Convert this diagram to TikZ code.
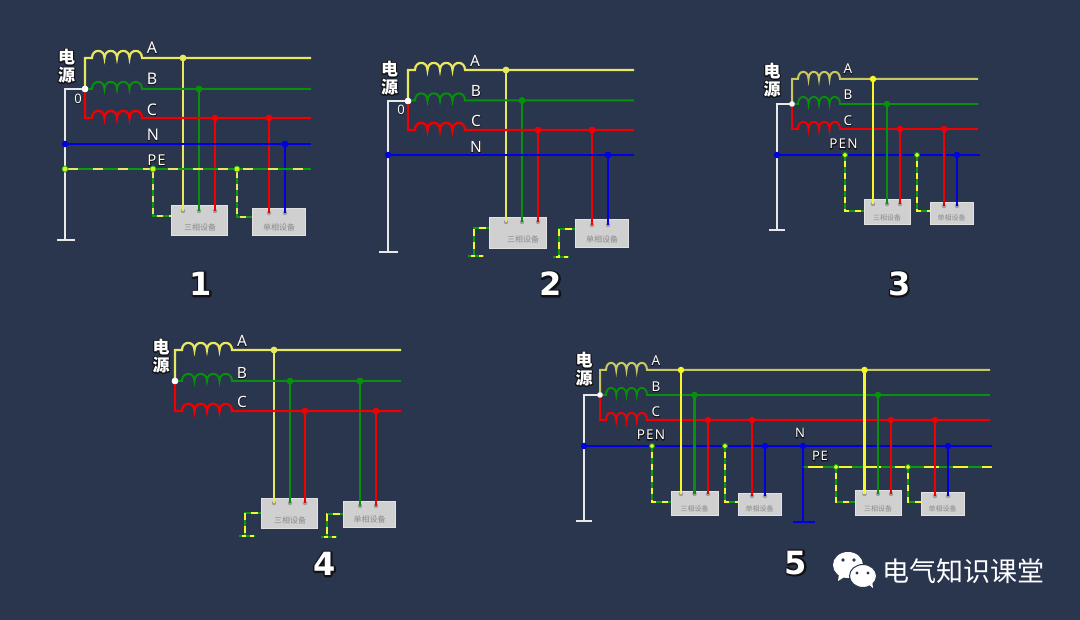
\documentclass[tikz,border=0pt]{standalone}
\usepackage{fontspec}
\setmainfont{Noto Sans}
\newfontfamily\cjk{Noto Sans CJK SC}
\newfontfamily\digitfont{DejaVu Sans}
\definecolor{bgc}{HTML}{2A354E}
\definecolor{yel}{HTML}{F6F628}
\definecolor{yelp}{HTML}{E8E860}
\definecolor{yelo}{HTML}{C8C860}
\definecolor{grn}{HTML}{08900C}
\definecolor{pegrn}{HTML}{0C9A10}
\definecolor{redw}{HTML}{F00000}
\definecolor{blu}{HTML}{0000E0}
\definecolor{wht}{HTML}{E8E8E8}
\definecolor{boxf}{HTML}{D0D0D0}
\definecolor{boxl}{HTML}{E2E2E2}
\definecolor{boxt}{HTML}{8A8A8A}
\definecolor{termc}{HTML}{9C9C9C}
% a dark stroke of the glyphs lies exactly under the white glyphs
\newcommand\halotext[2]{\rlap{\special{pdf:code 1 j 1 Tr 0.07 0.07 0.09 RG #1 w}#2\special{pdf:code 0 Tr 0.4 w}}#2}
\tikzset{
  x=1pt,y=-1pt,
  wire/.style={line join=miter},
  dotn/.style={circle,inner sep=0pt,minimum size=#1,draw=none},
  dotn/.default=6.5pt,
  term/.style={circle,inner sep=0pt,minimum size=4.5pt,fill=termc,draw=none},
  ring/.style={circle,inner sep=0pt,minimum size=5pt,fill=yel,draw=pegrn,line width=1pt},
  pedot/.style={circle,inner sep=0pt,minimum size=6pt,fill=yel!85!green,draw=pegrn,line width=.6pt},
  devbox/.style={rectangle,fill=boxf,draw=boxl,line width=.8pt,inner sep=0pt},
  devtxt/.style={inner sep=0pt,text=boxt,font=\cjk\fontsize{#1}{#1}\selectfont},
  lab/.style={inner sep=0pt,text=white,font=\bfseries\fontsize{#1}{#1}\selectfont},
  src/.style={inner sep=0pt,text=white,font=\cjk\bfseries\fontsize{#1}{#1}\selectfont},
  num/.style={inner sep=0pt,text=white,font=\digitfont\bfseries\fontsize{32}{32}\selectfont},
}
% name, colour, line width, junction node, y, coil start x, coil end x, end x
\newcommand\phase[8]{%
  \coordinate (#1c0) at (#6,#5);
  \coordinate (#1c1) at (#7,#5);
  \coordinate (#1e) at (#8,#5);
  \pgfmathsetmacro\cw{(#7-#6)/4}%
  \draw[wire,#2,line width=#3] (#4.center) -- (#4.center |- #1c0) -- (#1c0)
    \foreach \i [evaluate=\i as \xa using #6+\i*\cw, evaluate=\i as \xb using #6+(\i+1)*\cw] in {0,1,2,3}
      { .. controls (\xa,#5-9.5) and (\xb,#5-9.5) .. (\xb,#5) }
    -- (#1c1) -- (#1e);
}
% tap: name, colour, width, x, top y, bottom y
\newcommand\tapw[6]{%
  \node[dotn,fill=#2] (#1t) at (#4,#5) {};
  \node[term] (#1b) at (#4,#6) {};
  \draw[#2,line width=#3] (#1t.center) -- (#1b.center);
}
% green wire with yellow dashes along a path, dash on, dash off, colour
\newcommand\pewire[4]{%
  \draw[pegrn,line width=2.2pt,line join=miter] #1;
  \draw[#4,line width=2.2pt,dash pattern=on #2pt off #3pt,dash phase=-3pt] #1;
}
% name, x0,y0,x1,y1, text, size, text dx, text dy from bottom
\newcommand\dev[9]{%
  \node[devbox,minimum width=#4pt-#2pt,minimum height=#5pt-#3pt] (#1) at ({(#2+#4)/2},{(#3+#5)/2}) {};
  \node[devtxt=#7] (#1x) at ({(#2+#4)/2+#8},{#5-#9}) {#6};
}
\begin{document}
\begin{tikzpicture}
\useasboundingbox[fill=bgc] (0,0) rectangle (1080,620);

%% ---- diagram 1
\node[dotn,fill=white] (aj) at (85,89) {};
\coordinate (ag) at (65,240);
\draw[wht,line width=2.2pt] (aj.center) -- (ag |- aj) -- (ag);
\coordinate (agl) at (57,240); \coordinate (agr) at (75,240);
\draw[wht,line width=2pt] (agl) -- (agr);
\dev{ad1}{171}{205}{227}{235}{三相设备}{8}{1}{8}
\dev{ad2}{252}{208}{305}{235}{单相设备}{8}{.5}{8}
\tapw{a1}{yelp}{2pt}{183}{58}{211}
\tapw{a2}{grn}{2pt}{199}{89}{211}
\tapw{a3}{redw}{2.4pt}{215}{118}{211}
\tapw{a4}{redw}{2.4pt}{269}{118}{213}
\tapw{a5}{blu}{2.4pt}{285}{144}{213}
\phase{aa}{yelp}{2.2pt}{aj}{58}{92}{142}{311}
\phase{ab}{grn}{2pt}{aj}{89}{92}{142}{311}
\phase{ac}{redw}{2.4pt}{aj}{118}{92}{142}{311}
\node[dotn,fill=yelp] at (a1t) {};
\node[dotn,fill=grn] at (a2t) {};
\node[dotn,fill=redw] at (a3t) {};
\node[dotn,fill=redw] at (a4t) {};
\node[dotn,fill=white] at (aj) {};
\node[dotn,fill=blu] (an0) at (65,144) {};
\coordinate (an1) at (311,144);
\draw[blu,line width=2.6pt] (an0.center) -- (an1);
\node[dotn,fill=blu] at (a5t) {};
\node[pedot] (ap0) at (65,169) {};
\node[pedot] (ap1) at (153,169) {};
\node[pedot] (ap2) at (237,169) {};
\coordinate (ap3) at (311,169);
\coordinate (apa) at (153,216); \coordinate (apb) at (237,217);
\coordinate (apc) at (171,216); \coordinate (apd) at (252,217);
\pewire{(ap0.center) -- (ap3)}{10}{15}{yelp}
\pewire{(ap1.center) -- (apa) -- (apc)}{6}{6}{yelp}
\pewire{(ap2.center) -- (apb) -- (apd)}{6}{6}{yelp}
\node[pedot] at (ap0) {};
\node[pedot] at (ap1) {};
\node[pedot] at (ap2) {};
\node[lab=16] at (152,48) {\halotext{.8}{A}};
\node[lab=16] at (152,79) {\halotext{.8}{B}};
\node[lab=16] at (152,110) {\halotext{.8}{C}};
\node[lab=16] at (153,135) {\halotext{.8}{N}};
\node[lab=15] at (156.5,160) {\halotext{1.4}{P\kern1pt E}};
\node[lab=13] at (78,99) {\halotext{.6}{0}};
\node[src=17] at (66.5,57) {\halotext{2.2}{电}};
\node[src=17] at (66.5,75) {\halotext{2.2}{源}};
\node[num] at (201,284) {\halotext{3.4}{1}};

%% ---- diagram 2
\node[dotn,fill=white] (bj) at (408,101) {};
\coordinate (bg) at (388,252);
\draw[wht,line width=2.2pt] (bj.center) -- (bg |- bj) -- (bg);
\coordinate (bgl) at (379,252); \coordinate (bgr) at (398,252);
\draw[wht,line width=2pt] (bgl) -- (bgr);
\dev{bd1}{489}{217}{546}{248}{三相设备}{8}{5.5}{9}
\dev{bd2}{575}{219}{628}{247}{单相设备}{8}{.5}{8}
\tapw{b1}{yelp}{2pt}{506}{70}{222}
\tapw{b2}{grn}{2pt}{522}{100.5}{222}
\tapw{b3}{redw}{2.4pt}{538}{130}{222}
\tapw{b4}{redw}{2.4pt}{592}{130}{225}
\tapw{b5}{blu}{2.4pt}{608}{155}{225}
\phase{ba}{yelp}{2.2pt}{bj}{70}{415}{465}{634}
\phase{bb}{grn}{2pt}{bj}{100.5}{415}{465}{634}
\phase{bc}{redw}{2.4pt}{bj}{130}{415}{465}{634}
\node[dotn,fill=yelp] at (b1t) {};
\node[dotn,fill=grn] at (b2t) {};
\node[dotn,fill=redw] at (b3t) {};
\node[dotn,fill=redw] at (b4t) {};
\node[dotn,fill=white] at (bj) {};
\node[dotn,fill=blu] (bn0) at (388,155) {};
\coordinate (bn1) at (634,155);
\draw[blu,line width=2.6pt] (bn0.center) -- (bn1);
\node[dotn,fill=blu] at (b5t) {};
\coordinate (bpa) at (474,228); \coordinate (bpb) at (474,256);
\coordinate (bpc) at (489,228);
\coordinate (bpd) at (559,229); \coordinate (bpe) at (559,257);
\coordinate (bpf) at (575,229);
\coordinate (bpg) at (468,256); \coordinate (bph) at (484,256);
\coordinate (bpi) at (553,257); \coordinate (bpj) at (569,257);
\pewire{(bpc) -- (bpa) -- (bpb)}{7}{6}{yel}
\pewire{(bpf) -- (bpd) -- (bpe)}{7}{6}{yel}
\pewire{(bpg) -- (bph)}{4}{4}{yel}
\pewire{(bpi) -- (bpj)}{4}{4}{yel}
\node[lab=15.5] at (475,61) {\halotext{.8}{A}};
\node[lab=15.5] at (476,91) {\halotext{.8}{B}};
\node[lab=15.5] at (476,121) {\halotext{.8}{C}};
\node[lab=15.5] at (476,147) {\halotext{.8}{N}};
\node[lab=13] at (401,110) {\halotext{.6}{0}};
\node[src=17] at (389.5,69) {\halotext{2.2}{电}};
\node[src=17] at (389.5,87) {\halotext{2.2}{源}};
\node[num] at (551,284) {\halotext{3.4}{2}};

%% ---- diagram 3
\node[dotn=5.5pt,fill=white] (cj) at (792,104) {};
\coordinate (cg) at (777,230);
\draw[wht,line width=2.2pt] (cj.center) -- (cg |- cj) -- (cg);
\coordinate (cgl) at (769,230); \coordinate (cgr) at (785,230);
\draw[wht,line width=2pt] (cgl) -- (cgr);
\phase{ca}{yelo}{2pt}{cj}{79}{798}{840}{978}
\phase{cb}{grn}{1.8pt}{cj}{104}{798}{840}{978}
\phase{cc}{redw}{2pt}{cj}{129}{798}{840}{978}
\node[dotn=5.5pt,fill=white] at (cj) {};
\node[dotn,fill=blu] (cn0) at (777,155) {};
\coordinate (cn1) at (980,155);
\draw[blu,line width=2.6pt] (cn0.center) -- (cn1);
\dev{cd1}{864}{199}{910}{224}{三相设备}{7}{0}{6.5}
\dev{cd2}{930}{202}{973}{224}{单相设备}{7}{0}{6.5}
\tapw{c1}{yel}{2.4pt}{873}{79}{204}
\tapw{c2}{grn}{2.4pt}{887}{104}{204}
\tapw{c3}{redw}{2.4pt}{900}{129}{204}
\tapw{c4}{redw}{2.4pt}{944}{129}{206}
\tapw{c5}{blu}{2.4pt}{957}{155}{206}
\coordinate (cpa) at (845,211); \coordinate (cpb) at (917,211);
\coordinate (cpc) at (864,211); \coordinate (cpd) at (930,211);
\node[ring] (cp1) at (845,155) {};
\node[ring] (cp2) at (917,155) {};
\pewire{(cp1) -- (cpa) -- (cpc)}{6}{6}{yel}
\pewire{(cp2) -- (cpb) -- (cpd)}{6}{6}{yel}
\node[lab=13.5] at (848,69) {\halotext{.8}{A}};
\node[lab=13.5] at (848,95) {\halotext{.8}{B}};
\node[lab=13.5] at (848,121) {\halotext{.8}{C}};
\node[lab=13.5] at (843.5,144) {\halotext{1.6}{P\kern1.2pt E\kern1.2pt N}};
\node[src=17] at (772,71) {\halotext{2.2}{电}};
\node[src=17] at (772,89) {\halotext{2.2}{源}};
\node[num] at (899.5,284) {\halotext{3.4}{3}};

%% ---- diagram 4
\node[dotn,fill=white] (dj) at (175,381) {};
\dev{dd1}{261}{498}{317}{528}{三相设备}{8}{1}{8}
\dev{dd2}{343}{501}{395}{527}{单相设备}{8}{.5}{8}
\tapw{d1}{yelp}{2pt}{274}{350}{503}
\tapw{d2}{grn}{2pt}{290}{381}{503}
\tapw{d3}{redw}{2.4pt}{305}{411}{503}
\tapw{d4}{grn}{2pt}{360}{381}{506}
\tapw{d5}{redw}{2.4pt}{376}{411}{506}
\phase{da}{yelp}{2.2pt}{dj}{350}{182}{232}{401}
\phase{db}{grn}{2pt}{dj}{381}{182}{232}{401}
\phase{dc}{redw}{2.4pt}{dj}{411}{182}{232}{401}
\node[dotn,fill=yelp] at (d1t) {};
\node[dotn,fill=grn] at (d2t) {};
\node[dotn,fill=redw] at (d3t) {};
\node[dotn,fill=grn] at (d4t) {};
\node[dotn,fill=redw] at (d5t) {};
\node[dotn,fill=white] at (dj) {};
\coordinate (dpa) at (245,513); \coordinate (dpb) at (245,536);
\coordinate (dpc) at (261,513);
\coordinate (dpd) at (327,514); \coordinate (dpe) at (327,537);
\coordinate (dpf) at (343,514);
\coordinate (dpg) at (239,536); \coordinate (dph) at (255,536);
\coordinate (dpi) at (321,537); \coordinate (dpj) at (337,537);
\pewire{(dpc) -- (dpa) -- (dpb)}{7}{6}{yel}
\pewire{(dpf) -- (dpd) -- (dpe)}{7}{6}{yel}
\pewire{(dpg) -- (dph)}{4}{4}{yel}
\pewire{(dpi) -- (dpj)}{4}{4}{yel}
\node[lab=15.5] at (242,341) {\halotext{.8}{A}};
\node[lab=15.5] at (242,373) {\halotext{.8}{B}};
\node[lab=15.5] at (242,402) {\halotext{.8}{C}};
\node[src=17] at (161,347) {\halotext{2.2}{电}};
\node[src=17] at (161,365) {\halotext{2.2}{源}};
\node[num] at (324.5,564) {\halotext{3.4}{4}};

%% ---- diagram 5
\node[dotn=5.5pt,fill=white] (ej) at (600,395) {};
\coordinate (eg) at (584,521);
\draw[wht,line width=2.2pt] (ej.center) -- (eg |- ej) -- (eg);
\coordinate (egl) at (576,521); \coordinate (egr) at (592,521);
\draw[wht,line width=2pt] (egl) -- (egr);
\phase{ea}{yelo}{2pt}{ej}{370}{606}{647}{990}
\phase{eb}{grn}{1.8pt}{ej}{395}{606}{647}{990}
\phase{ec}{redw}{2pt}{ej}{420}{606}{647}{990}
\node[dotn=5.5pt,fill=white] at (ej) {};
\node[dotn,fill=blu] (en0) at (584,446) {};
\coordinate (en1) at (992,446);
\draw[blu,line width=2.6pt] (en0.center) -- (en1);
\node[dotn,fill=blu] (en2) at (803,446) {};
\coordinate (en3) at (803,521.5);
\draw[blu,line width=2.2pt] (en2.center) -- (en3);
\coordinate (enl) at (793,521.5); \coordinate (enr) at (815,521.5);
\draw[blu,line width=2pt] (enl) -- (enr);
\dev{ed1}{671}{491}{718}{515}{三相设备}{7}{0}{6.5}
\dev{ed2}{738}{493}{781}{515}{单相设备}{7}{0}{6.5}
\dev{ed3}{855}{490}{901}{515}{三相设备}{7}{0}{6.5}
\dev{ed4}{921}{492}{964}{515}{单相设备}{7}{0}{6.5}
\node[dotn=2pt,fill=pegrn] (ep0) at (804,467) {};
\coordinate (ep1) at (992,467);
\pewire{(ep0) -- (ep1)}{15}{14}{yel}
\tapw{e1}{yel}{2.4pt}{681}{370}{494}
\tapw{e2}{grn}{2.4pt}{694.5}{395}{494}
\tapw{e3}{redw}{2.4pt}{708}{420}{494}
\tapw{e4}{redw}{2.4pt}{752}{420}{496}
\tapw{e5}{blu}{2.4pt}{765}{446}{496}
\tapw{f1}{yel}{2.4pt}{864.5}{370}{494}
\tapw{f2}{grn}{2.4pt}{878}{395}{494}
\tapw{f3}{redw}{2.4pt}{891}{420}{494}
\tapw{f4}{redw}{2.4pt}{935}{420}{496}
\tapw{f5}{blu}{2.4pt}{948}{446}{496}
\node[ring] (ep2) at (652,446) {};
\node[ring] (ep3) at (725,446) {};
\node[ring] (ep4) at (836,467) {};
\node[ring] (ep5) at (908,467) {};
\coordinate (eqa) at (652,502); \coordinate (eqb) at (671,502);
\coordinate (eqc) at (725,502); \coordinate (eqd) at (738,502);
\coordinate (eqe) at (836,502); \coordinate (eqf) at (855,502);
\coordinate (eqg) at (908,502); \coordinate (eqh) at (921,502);
\pewire{(ep2) -- (eqa) -- (eqb)}{6}{6}{yel}
\pewire{(ep3) -- (eqc) -- (eqd)}{6}{6}{yel}
\pewire{(ep4) -- (eqe) -- (eqf)}{6}{6}{yel}
\pewire{(ep5) -- (eqg) -- (eqh)}{6}{6}{yel}
\node[lab=13.5] at (656,361) {\halotext{.8}{A}};
\node[lab=13.5] at (656,387) {\halotext{.8}{B}};
\node[lab=13.5] at (656,412) {\halotext{.8}{C}};
\node[lab=13.5] at (651,435) {\halotext{1.6}{P\kern1.2pt E\kern1.2pt N}};
\node[lab=13] at (800,433) {\halotext{1.6}{N}};
\node[lab=13] at (820,456) {\halotext{1.6}{P\kern.6pt E}};
\node[src=17] at (584,360) {\halotext{2.2}{电}};
\node[src=17] at (584,378) {\halotext{2.2}{源}};
\node[num] at (796,563) {\halotext{3.4}{5}};

%% ---- watermark
\fill[white] (848,565) ellipse [x radius=15,y radius=13];
\fill[white] (839,574) -- (838,581) -- (846,576) -- cycle;
\fill[bgc] (843,560) circle [radius=1.8];
\fill[bgc] (854,560) circle [radius=1.8];
\fill[white,draw=bgc,line width=1pt] (863,576) ellipse [x radius=13.5,y radius=11.5];
\fill[white] (868,584) -- (873,588) -- (872,581) -- cycle;
\fill[bgc] (857,573) circle [radius=1.6];
\fill[bgc] (868,573) circle [radius=1.6];
\node[inner sep=0pt,text=white,font=\cjk\fontsize{27}{27}\selectfont] (wm) at (963.5,571) {电气知识课堂};
\end{tikzpicture}
\end{document}
